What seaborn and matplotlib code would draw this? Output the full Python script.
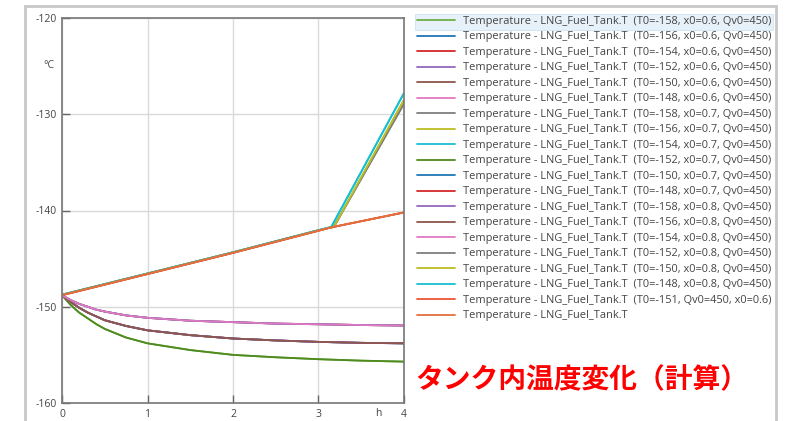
import matplotlib
matplotlib.use("Agg")
import matplotlib.pyplot as plt
from matplotlib.patches import Rectangle
import seaborn as sns

# time axis samples (h)
t_fall = [0, 0.1, 0.2, 0.3, 0.4, 0.5, 0.75, 1, 1.5, 2, 2.5, 3, 3.5, 4]
t_rise = [0, 1, 2, 3, 3.15, 4]
t_rise_b = [0, 1, 2, 3, 3.18, 4]

# temperature curves (°C)
fall_low = [-148.8, -149.8, -150.6, -151.2, -151.8, -152.3, -153.2, -153.8, -154.5, -155.0, -155.25, -155.45, -155.6, -155.7]
fall_mid = [-148.8, -149.5, -150.1, -150.6, -151.0, -151.4, -152.0, -152.45, -152.95, -153.3, -153.5, -153.65, -153.75, -153.8]
fall_top = [-148.8, -149.3, -149.7, -150.0, -150.3, -150.5, -150.9, -151.15, -151.45, -151.6, -151.75, -151.82, -151.9, -151.95]
rise_slow = [-148.8, -146.6, -144.4, -142.1, -141.75, -140.2]
rise_cyan = [-148.75, -146.55, -144.35, -142.05, -141.7, -127.8]
rise_olive = [-148.75, -146.55, -144.35, -142.05, -141.7, -128.5]
rise_gray = [-148.75, -146.55, -144.35, -142.05, -141.7, -128.9]

labels = [
    "Temperature - LNG_Fuel_Tank.T  (T0=-158, x0=0.6, Qv0=450)",
    "Temperature - LNG_Fuel_Tank.T  (T0=-156, x0=0.6, Qv0=450)",
    "Temperature - LNG_Fuel_Tank.T  (T0=-154, x0=0.6, Qv0=450)",
    "Temperature - LNG_Fuel_Tank.T  (T0=-152, x0=0.6, Qv0=450)",
    "Temperature - LNG_Fuel_Tank.T  (T0=-150, x0=0.6, Qv0=450)",
    "Temperature - LNG_Fuel_Tank.T  (T0=-148, x0=0.6, Qv0=450)",
    "Temperature - LNG_Fuel_Tank.T  (T0=-158, x0=0.7, Qv0=450)",
    "Temperature - LNG_Fuel_Tank.T  (T0=-156, x0=0.7, Qv0=450)",
    "Temperature - LNG_Fuel_Tank.T  (T0=-154, x0=0.7, Qv0=450)",
    "Temperature - LNG_Fuel_Tank.T  (T0=-152, x0=0.7, Qv0=450)",
    "Temperature - LNG_Fuel_Tank.T  (T0=-150, x0=0.7, Qv0=450)",
    "Temperature - LNG_Fuel_Tank.T  (T0=-148, x0=0.7, Qv0=450)",
    "Temperature - LNG_Fuel_Tank.T  (T0=-158, x0=0.8, Qv0=450)",
    "Temperature - LNG_Fuel_Tank.T  (T0=-156, x0=0.8, Qv0=450)",
    "Temperature - LNG_Fuel_Tank.T  (T0=-154, x0=0.8, Qv0=450)",
    "Temperature - LNG_Fuel_Tank.T  (T0=-152, x0=0.8, Qv0=450)",
    "Temperature - LNG_Fuel_Tank.T  (T0=-150, x0=0.8, Qv0=450)",
    "Temperature - LNG_Fuel_Tank.T  (T0=-148, x0=0.8, Qv0=450)",
    "Temperature - LNG_Fuel_Tank.T  (T0=-151, Qv0=450, x0=0.6)",
    "Temperature - LNG_Fuel_Tank.T",
]

colors = ["#70ad47", "#1f77b4", "#d62728", "#9467bd", "#8c564b", "#e377c2",
          "#7f7f7f", "#bcbd22", "#17becf", "#4e8a1e", "#1f77b4", "#d62728",
          "#9467bd", "#8c564b", "#e377c2", "#7f7f7f", "#bcbd22", "#17becf",
          "#ee5533", "#e4703c"]

series = [
    (t_fall, fall_low), (t_fall, fall_mid), (t_fall, fall_top), (t_fall, fall_mid),
    (t_fall, fall_mid), (t_fall, fall_top), (t_rise_b, rise_gray), (t_rise_b, rise_olive),
    (t_rise, rise_cyan), (t_fall, fall_low), (t_fall, fall_top), (t_rise, rise_slow),
    (t_fall, fall_mid), (t_fall, fall_mid), (t_fall, fall_top), (t_rise_b, rise_gray),
    (t_rise_b, rise_olive), (t_rise, rise_cyan), (t_rise, rise_slow), (t_rise, rise_slow),
]

sns.set_theme(style="white")
plt.rcParams['font.family'] = ['Open Sans', 'DejaVu Sans']
plt.rcParams['axes.unicode_minus'] = False

fig = plt.figure(figsize=(7.87, 4.21), dpi=100)
ax = fig.add_axes([62 / 787, 1 - 403 / 421, 342 / 787, 385 / 421])

# outer window frame
fig.patches.append(Rectangle((25 / 787, -0.05), 751 / 787, 1 - 6 / 421 + 0.05,
                             transform=fig.transFigure, fill=False,
                             edgecolor="#c8c8c8", linewidth=2))
# highlighted first legend row
fig.patches.append(Rectangle((415 / 787, 1 - 30 / 421), 358 / 787, 16 / 421,
                             transform=fig.transFigure, facecolor="#e6f1fa",
                             edgecolor="#cfe3f3", linewidth=0.6, zorder=-1))

for (tx, ty), c, lab in zip(series, colors, labels):
    sns.lineplot(x=tx, y=ty, color=c, label=lab, linewidth=1.3, ax=ax)

ax.set_xlim(0, 4)
ax.set_ylim(-160, -120)
ax.set_xticks([0, 1, 2, 3, 4])
ax.set_yticks([-160, -150, -140, -130, -120])
ax.set_xticklabels(["0", "1", "2", "3", "4"])
ax.set_yticklabels(["-160", "-150", "-140", "-130", "-120"])
ax.tick_params(direction="in", length=6, width=1, colors="#666666",
               labelcolor="#444444", labelsize=7.5, pad=4, left=True, bottom=True)
ax.grid(True, color="#dadada", linewidth=1)
for s in ax.spines.values():
    s.set_color("#777777")
    s.set_linewidth(1.2)
ax.set_xlabel("")
ax.set_ylabel("")

fig.text(49 / 787, 1 - 66 / 421, "°C", fontsize=7.5, color="#444444", ha="center", va="center")
fig.text(378 / 787, 1 - 413 / 421, "h", fontsize=7.5, color="#444444", ha="center", va="center")

ax.legend(loc="upper left", bbox_to_anchor=(417 / 787, 1 - 16 / 421),
          bbox_transform=fig.transFigure, frameon=False, fontsize=7.9,
          handlelength=3.5, handletextpad=0.65, labelspacing=0.41,
          borderaxespad=0, borderpad=0, labelcolor="#444444")

fig.text(415 / 787, 1 - 380 / 421, "タンク内温度変化（計算）", fontsize=20,
         fontweight="bold", color="#ff0000", ha="left", va="center",
         family=["Noto Sans CJK JP", "DejaVu Sans"])

fig.savefig("out.png", dpi=100, facecolor="white")
